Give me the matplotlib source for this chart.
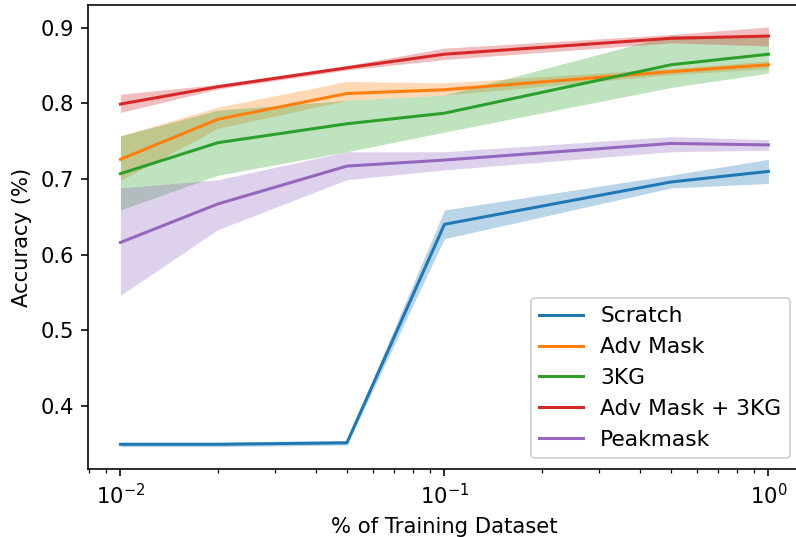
import matplotlib
matplotlib.use("Agg")
import matplotlib.pyplot as plt

# fraction of the training set used
fractions = [0.01, 0.02, 0.05, 0.1, 0.5, 1.0]

labels = ["Scratch", "Adv Mask", "3KG", "Adv Mask + 3KG", "Peakmask"]

# mean accuracy per method
scratch_mean = [0.349, 0.349, 0.351, 0.640, 0.696, 0.710]
advmask_mean = [0.726, 0.779, 0.813, 0.818, 0.842, 0.851]
kg3_mean     = [0.707, 0.748, 0.773, 0.787, 0.851, 0.865]
combo_mean   = [0.799, 0.822, 0.847, 0.865, 0.886, 0.889]
peak_mean    = [0.616, 0.667, 0.717, 0.725, 0.747, 0.745]

# lower / upper edge of the shaded band
scratch_lo = [0.346, 0.346, 0.348, 0.621, 0.688, 0.694]
scratch_hi = [0.352, 0.352, 0.354, 0.659, 0.705, 0.726]
advmask_lo = [0.698, 0.767, 0.804, 0.811, 0.838, 0.846]
advmask_hi = [0.757, 0.795, 0.829, 0.827, 0.846, 0.856]
kg3_lo     = [0.659, 0.705, 0.736, 0.762, 0.821, 0.840]
kg3_hi     = [0.757, 0.791, 0.804, 0.811, 0.890, 0.888]
combo_lo   = [0.788, 0.819, 0.844, 0.858, 0.880, 0.876]
combo_hi   = [0.812, 0.825, 0.850, 0.873, 0.891, 0.901]
peak_lo    = [0.546, 0.633, 0.699, 0.712, 0.736, 0.738]
peak_hi    = [0.688, 0.699, 0.736, 0.736, 0.756, 0.752]

means = [scratch_mean, advmask_mean, kg3_mean, combo_mean, peak_mean]
lows = [scratch_lo, advmask_lo, kg3_lo, combo_lo, peak_lo]
highs = [scratch_hi, advmask_hi, kg3_hi, combo_hi, peak_hi]
colors = ["tab:blue", "tab:orange", "tab:green", "tab:red", "tab:purple"]

plt.rcParams["font.size"] = 10.5

dpi = 145
fig = plt.figure(figsize=(796 / dpi, 537 / dpi), dpi=dpi)
ax = fig.add_axes([0.1106, 0.126, 0.8955, 0.864])

for m, lo, hi, c, lab in zip(means, lows, highs, colors, labels):
    ax.plot(fractions, m, color=c, label=lab)
    ax.fill_between(fractions, lo, hi, color=c, alpha=0.3, linewidth=0)

ax.set_xscale("log")
ax.set_ylim(0.3159, 0.9296)
ax.set_yticks([0.4, 0.5, 0.6, 0.7, 0.8, 0.9])
ax.set_xlabel("% of Training Dataset")
ax.set_ylabel("Accuracy (%)")
ax.legend(loc="lower right", fontsize=10.8)

fig.savefig("out.png", dpi=dpi)
